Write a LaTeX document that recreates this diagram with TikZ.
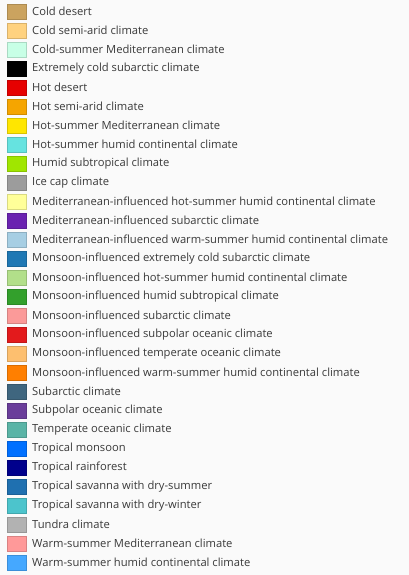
\documentclass[tikz,border=0pt]{standalone}
\usepackage{fontspec}
\setmainfont{Open Sans}
\definecolor{bg}{HTML}{FAFAFA}
\definecolor{txt}{HTML}{3A3A3A}
\definecolor{c1}{HTML}{CBA35F}
\definecolor{c2}{HTML}{FFD27F}
\definecolor{c3}{HTML}{C8FFE6}
\definecolor{c4}{HTML}{000000}
\definecolor{c5}{HTML}{E60000}
\definecolor{c6}{HTML}{F5A500}
\definecolor{c7}{HTML}{FFE600}
\definecolor{c8}{HTML}{66E3E0}
\definecolor{c9}{HTML}{A0E600}
\definecolor{c10}{HTML}{9C9C9C}
\definecolor{c11}{HTML}{FFFF99}
\definecolor{c12}{HTML}{6A22B0}
\definecolor{c13}{HTML}{A6CEE3}
\definecolor{c14}{HTML}{1F78B4}
\definecolor{c15}{HTML}{B2DF8A}
\definecolor{c16}{HTML}{33A02C}
\definecolor{c17}{HTML}{FB9A99}
\definecolor{c18}{HTML}{E31A1C}
\definecolor{c19}{HTML}{FDBF6F}
\definecolor{c20}{HTML}{FF7F00}
\definecolor{c21}{HTML}{3F667F}
\definecolor{c22}{HTML}{6A3D9A}
\definecolor{c23}{HTML}{5AB4A6}
\definecolor{c24}{HTML}{0070FF}
\definecolor{c25}{HTML}{00008C}
\definecolor{c26}{HTML}{1F70B0}
\definecolor{c27}{HTML}{4CC4CC}
\definecolor{c28}{HTML}{B2B2B2}
\definecolor{c29}{HTML}{FF9999}
\definecolor{c30}{HTML}{45A8FF}
\tikzset{
  swatch/.style={minimum width=19pt, minimum height=15pt, inner sep=0pt, draw=#1!85!black, line width=0.3pt, fill=#1},
  label/.style={anchor=west, inner sep=0pt, text=txt, font=\fontsize{11.2}{13}\selectfont}
}
\begin{document}
\begin{tikzpicture}[x=1pt,y=1pt]
\fill[bg] (0,0) rectangle (409,-575);
\useasboundingbox (0,0) rectangle (409,-575);
\foreach \t [count=\i] in {
Cold desert,
Cold semi-arid climate,
Cold-summer Mediterranean climate,
Extremely cold subarctic climate,
Hot desert,
Hot semi-arid climate,
Hot-summer Mediterranean climate,
Hot-summer humid continental climate,
Humid subtropical climate,
Ice cap climate,
Mediterranean-influenced hot-summer humid continental climate,
Mediterranean-influenced subarctic climate,
Mediterranean-influenced warm-summer humid continental climate,
Monsoon-influenced extremely cold subarctic climate,
Monsoon-influenced hot-summer humid continental climate,
Monsoon-influenced humid subtropical climate,
Monsoon-influenced subarctic climate,
Monsoon-influenced subpolar oceanic climate,
Monsoon-influenced temperate oceanic climate,
Monsoon-influenced warm-summer humid continental climate,
Subarctic climate,
Subpolar oceanic climate,
Temperate oceanic climate,
Tropical monsoon,
Tropical rainforest,
Tropical savanna with dry-summer,
Tropical savanna with dry-winter,
Tundra climate,
Warm-summer Mediterranean climate,
Warm-summer humid continental climate}
{
  \node[swatch=c\i] (sw\i) at (16.5, {-11.5-19*(\i-1)}) {};
  \node[label] (lb\i) at (32, {-11.5-19*(\i-1)}) {\t};
}
\end{tikzpicture}
\end{document}
